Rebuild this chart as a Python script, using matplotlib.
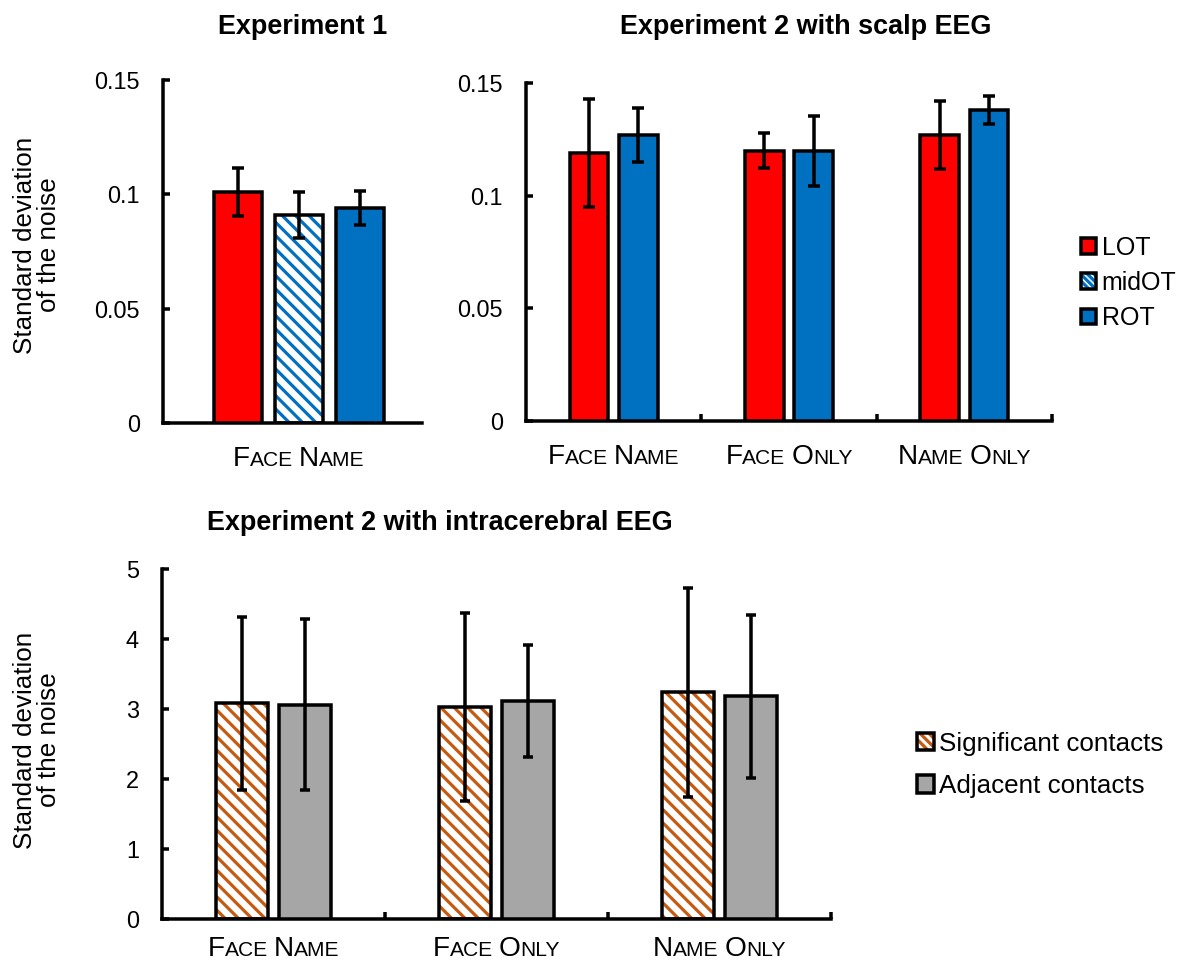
import numpy as np
import matplotlib
matplotlib.use("Agg")
import matplotlib.pyplot as plt
from matplotlib.patches import Patch
from matplotlib.transforms import blended_transform_factory, ScaledTranslation

# datos
exp1_regions = ["LOT", "midOT", "ROT"]
exp1_means = [0.101, 0.091, 0.094]
exp1_err = [0.0105, 0.010, 0.0075]

conditions = ["Face Name", "Face Only", "Name Only"]
scalp_lot = [0.119, 0.120, 0.127]
scalp_lot_err = [0.024, 0.0077, 0.015]
scalp_rot = [0.127, 0.120, 0.138]
scalp_rot_err = [0.012, 0.0155, 0.0063]

ic_sig = [3.08, 3.03, 3.24]
ic_sig_err = [1.24, 1.34, 1.49]
ic_adj = [3.06, 3.11, 3.18]
ic_adj_err = [1.22, 0.80, 1.16]

DPI = 80
W, H = 1183, 963
P = 72 / DPI  # puntos por pixel
LW = 3.5 * P

RED = "#FF0000"
BLUE = "#0070C0"
GRAY = "#A6A6A6"
ORANGE = "#C55A11"

plt.rcParams["font.family"] = ["Liberation Sans", "DejaVu Sans"]
plt.rcParams["hatch.linewidth"] = 3.2 * P

fig = plt.figure(figsize=(W / DPI, H / DPI), dpi=DPI)


def make_ax(x0, y0, x1, y1):
    ax = fig.add_axes([x0 / W, 1 - y1 / H, (x1 - x0) / W, (y1 - y0) / H])
    for s in ["top", "right"]:
        ax.spines[s].set_visible(False)
    for s in ["left", "bottom"]:
        ax.spines[s].set_linewidth(LW)
    ax.tick_params(axis="y", direction="in", length=7 * P, width=LW,
                   labelsize=23.5 * P, pad=23 * P)
    ax.tick_params(axis="x", direction="in", length=7 * P, width=LW,
                   labelbottom=False)
    return ax


def bars(ax, x, h, err, width, color, hatch=None, capsize=6):
    if hatch:
        ax.bar(x, h, width, color="white", edgecolor=color, hatch=hatch,
               linewidth=0, zorder=2)
        ax.bar(x, h, width, color="none", edgecolor="black",
               linewidth=LW, zorder=3)
    else:
        ax.bar(x, h, width, color=color, edgecolor="black",
               linewidth=LW, zorder=3)
    ax.errorbar(x, h, yerr=err, fmt="none", ecolor="black",
                elinewidth=LW, capsize=capsize * P, capthick=LW, zorder=4)


def smallcaps(ax, x, label, big=28, small=21, drop=43):
    trans = blended_transform_factory(ax.transData, ax.transAxes)
    renderer = fig.canvas.get_renderer()
    pieces = []
    words = label.split()
    for i, w in enumerate(words):
        pieces.append((w[0].upper(), big, 0))
        pieces.append((w[1:].upper(), small, 0))
        if i < len(words) - 1:
            pieces.append(("", 0, 6))
    texts = []
    total = 0
    for s, fs, gap in pieces:
        if s:
            t = ax.text(x, 0, s, fontsize=fs * P, ha="left", va="baseline",
                        transform=trans, clip_on=False)
            w = t.get_window_extent(renderer).width
            texts.append((t, w))
            total += w
        else:
            texts.append((None, gap))
            total += gap
    dx = -total / 2
    for t, w in texts:
        if t is not None:
            t.set_transform(trans + ScaledTranslation(dx / DPI, -drop / DPI,
                                                      fig.dpi_scale_trans))
        dx += w


def ylabel(x, y):
    fig.text(x / W, 1 - y / H, "Standard deviation\nof the noise",
             rotation=90, ha="center", va="center", multialignment="center",
             fontsize=26 * P, linespacing=1.0)


# --- Experiment 1 ---
ax1 = make_ax(163, 80, 422, 423)
pos1 = np.array([-0.235, 0, 0.235])
bars(ax1, pos1[0], exp1_means[0], exp1_err[0], 0.185, RED)
bars(ax1, pos1[1], exp1_means[1], exp1_err[1], 0.185, BLUE, hatch="\\\\")
bars(ax1, pos1[2], exp1_means[2], exp1_err[2], 0.185, BLUE)
ax1.set_xlim(-0.525, 0.475)
ax1.set_ylim(0, 0.15)
ax1.set_yticks([0, 0.05, 0.1, 0.15])
ax1.set_yticklabels(["0", "0.05", "0.1", "0.15"])
ax1.set_xticks([])
smallcaps(ax1, 0, conditions[0])
ylabel(37, 245)
fig.text(303 / W, 1 - 27 / H, "Experiment 1", ha="center", va="center",
         fontsize=27 * P, fontweight="bold")

# --- Experiment 2 scalp ---
ax2 = make_ax(526, 83, 1052, 421)
xc = np.arange(len(conditions))
bars(ax2, xc - 0.14, scalp_lot, scalp_lot_err, 0.22, RED)
bars(ax2, xc + 0.14, scalp_rot, scalp_rot_err, 0.22, BLUE)
ax2.set_xlim(-0.5, 2.5)
ax2.set_ylim(0, 0.15)
ax2.set_yticks([0, 0.05, 0.1, 0.15])
ax2.set_yticklabels(["0", "0.05", "0.1", "0.15"])
ax2.set_xticks([0.5, 1.5, 2.5])
for i, c in enumerate(conditions):
    smallcaps(ax2, i, c)
fig.text(806 / W, 1 - 27 / H, "Experiment 2 with scalp EEG", ha="center",
         va="center", fontsize=27 * P, fontweight="bold")

leg1 = [Patch(facecolor=RED, edgecolor="black", linewidth=LW),
        (Patch(facecolor="white", edgecolor=BLUE, hatch="\\\\\\\\", linewidth=0),
         Patch(facecolor="none", edgecolor="black", linewidth=LW)),
        Patch(facecolor=BLUE, edgecolor="black", linewidth=LW)]
fig.legend(leg1, exp1_regions, loc="center left",
           bbox_to_anchor=(1068 / W, 1 - 283 / H), frameon=False,
           fontsize=25 * P, handlelength=0.6, handleheight=0.6,
           handletextpad=0.25, labelspacing=0.45, borderpad=0)

# --- Experiment 2 intracerebral ---
ax3 = make_ax(162, 569, 831, 919)
bars(ax3, xc - 0.14, ic_sig, ic_sig_err, 0.235, ORANGE, hatch="\\\\", capsize=5)
bars(ax3, xc + 0.14, ic_adj, ic_adj_err, 0.235, GRAY, capsize=5)
ax3.set_xlim(-0.5, 2.5)
ax3.set_ylim(0, 5)
ax3.set_yticks(range(6))
ax3.set_xticks([0.5, 1.5, 2.5])
for i, c in enumerate(conditions):
    smallcaps(ax3, i, c, drop=37)
ylabel(37, 740)
fig.text(440 / W, 1 - 523 / H, "Experiment 2 with intracerebral EEG",
         ha="center", va="center", fontsize=27 * P, fontweight="bold")

leg2 = [(Patch(facecolor="white", edgecolor=ORANGE, hatch="\\\\\\", linewidth=0),
         Patch(facecolor="none", edgecolor="black", linewidth=LW)),
        Patch(facecolor=GRAY, edgecolor="black", linewidth=LW)]
fig.legend(leg2, ["Significant contacts", "Adjacent contacts"],
           loc="center left", bbox_to_anchor=(904 / W, 1 - 765 / H),
           frameon=False, fontsize=26 * P, handlelength=0.65,
           handleheight=0.65, handletextpad=0.2, labelspacing=0.7,
           borderpad=0)

fig.savefig("out.png", dpi=DPI)
